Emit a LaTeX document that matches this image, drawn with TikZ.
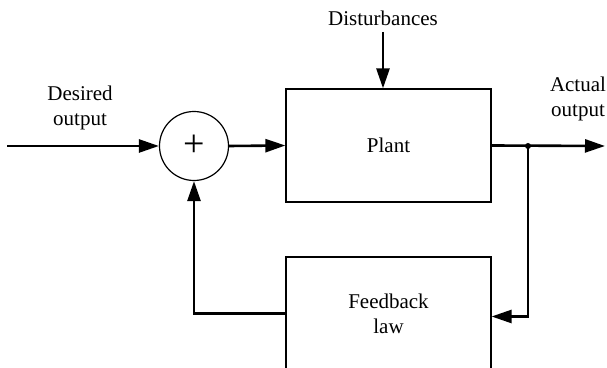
\documentclass[tikz,border=0pt]{standalone}
\usepackage{fontspec}
\setmainfont{Liberation Serif}
\usepackage{tikz}
\usetikzlibrary{arrows.meta}

\begin{document}
\begin{tikzpicture}[x=0.5pt,y=-0.5pt,
    block/.style={draw,line width=0.6pt,minimum width=102.5pt,minimum height=56.5pt,inner sep=0},
    sumnode/.style={draw,circle,line width=0.6pt,minimum size=34.5pt,inner sep=0},
    signal/.style={line width=1.3pt,-{Triangle[length=10pt,width=6.5pt]}},
    lbl/.style={align=center,font=\fontsize{10.5}{12.5}\selectfont,inner sep=0}]
  \useasboundingbox (0,0) rectangle (607,368);
  \clip (0,0) rectangle (607,368);

  % blocks
  \node[sumnode] (sum) at (194,146) {\fontsize{19}{19}\selectfont\raisebox{0.5pt}{+}};
  \node[block] (plant) at (388.5,145.5) {};
  \node[lbl] at (plant) {Plant};
  \node[block] (fb) at (388.5,313.5) {};
  \node[lbl] at (fb) {Feedback\\law};

  % labels
  \node[lbl] (desired) at (80,108) {Desired\\output};
  \node[lbl] (dist) at (383,18) {Disturbances};
  \node[lbl] (actual) at (578,99) {Actual\\output};

  \coordinate (in) at (7,146);
  \coordinate (distin) at (383,32);
  \coordinate (branch) at (528,146);
  \coordinate (out) at (605,146);

  % forward path
  \draw[signal] (in) -- (sum.west);
  \draw[signal] (sum.east) -- (plant.west);
  \draw[signal] (distin) -- (distin |- plant.north);
  \draw[signal] (plant.east) -- (out);
  \fill (branch) circle (3);

  % feedback path
  \draw[signal] (branch) |- ([yshift=-1.5pt]fb.east);
  \draw[signal] (fb.west) -| (sum.south);
\end{tikzpicture}
\end{document}
